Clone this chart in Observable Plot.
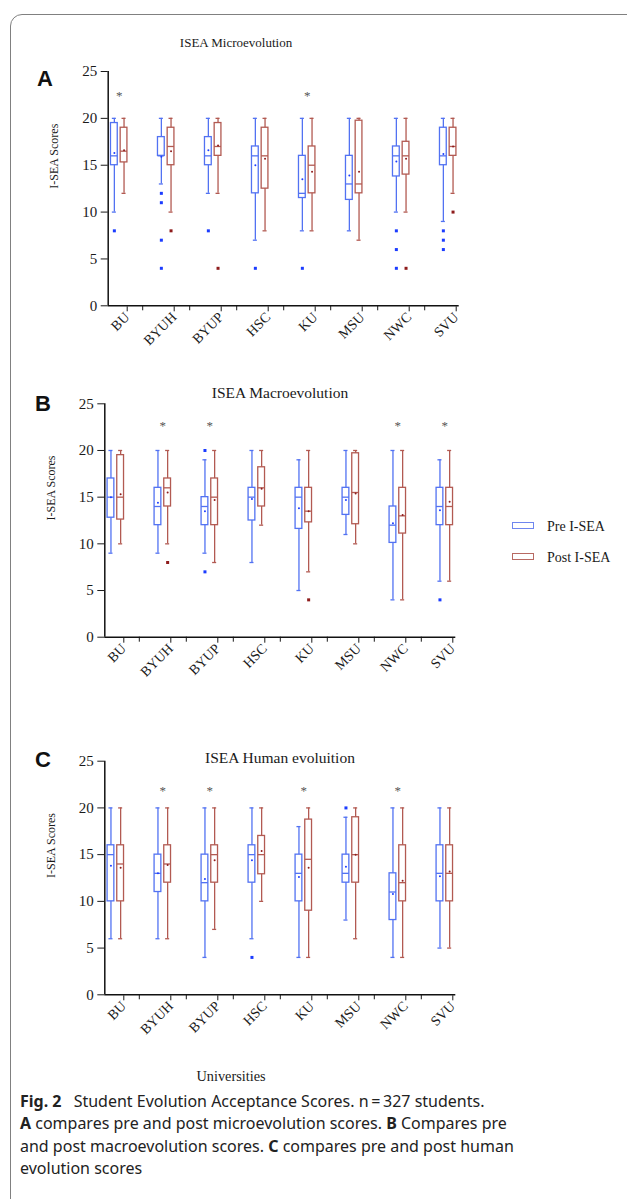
<!DOCTYPE html>
<html><head><meta charset="utf-8">
<script src="https://cdn.jsdelivr.net/npm/d3@7"></script>
<script src="https://cdn.jsdelivr.net/npm/@observablehq/plot@0.6"></script>
<style>
html,body{margin:0;padding:0;overflow:hidden;background:#fff;}
#page{position:relative;width:627px;height:1199px;overflow:hidden;background:#fff;}
#border{position:absolute;left:10px;top:14px;width:720px;height:1300px;border:1.5px solid #808080;border-top-left-radius:12px;box-sizing:border-box;}
.svgwrap{position:absolute;left:0;}
.abs{position:absolute;white-space:nowrap;line-height:1;}
.serif{font-family:"Liberation Serif","Times New Roman",serif;color:#1a1a1a;}
.letter{font-family:"Liberation Sans",Arial,sans-serif;font-weight:bold;font-size:22px;color:#111;}
.lbox{position:absolute;width:22px;height:7px;box-sizing:border-box;border:1.5px solid;}
#caption{position:absolute;left:20px;top:1090px;font-family:"Noto Sans",sans-serif;font-size:16px;line-height:22.3px;color:#222;white-space:nowrap;}
#caption b{font-weight:bold;}
</style></head>
<body><div id="page">
<div id="border"></div>
<div id="panelA" class="svgwrap" style="top:50px"></div>
<div id="panelB" class="svgwrap" style="top:382px"></div>
<div id="panelC" class="svgwrap" style="top:740px"></div>

<div class="abs serif" style="left:236px;top:36px;font-size:13px;transform:translateX(-50%)">ISEA Microevolution</div>
<div class="abs serif" style="left:280px;top:385px;font-size:15.5px;transform:translateX(-50%)">ISEA Macroevolution</div>
<div class="abs serif" style="left:280px;top:750px;font-size:15.5px;transform:translateX(-50%)">ISEA Human evoluition</div>

<div class="abs letter" style="left:37px;top:68px">A</div>
<div class="abs letter" style="left:35px;top:393px">B</div>
<div class="abs letter" style="left:35px;top:749px">C</div>

<div class="lbox" style="left:512px;top:522px;border-color:#6f86ef"></div>
<div class="abs serif" style="left:547px;top:520px;font-size:14px">Pre I-SEA</div>
<div class="lbox" style="left:512px;top:553px;border-color:#b86a63"></div>
<div class="abs serif" style="left:547px;top:551px;font-size:14px">Post I-SEA</div>

<div class="abs serif" style="left:231px;top:1069px;font-size:14.3px;transform:translateX(-50%)">Universities</div>

<div id="caption"><b>Fig. 2</b>&ensp;&nbsp;Student Evolution Acceptance Scores. n&#8201;=&#8201;327 students.<br><b>A</b> compares pre and post microevolution scores. <b>B</b> Compares pre<br>and post macroevolution scores. <b>C</b> compares pre and post human<br>evolution scores</div>
</div>

<script>
// ---- data ----
const universities = ["BU", "BYUH", "BYUP", "HSC", "KU", "MSU", "NWC", "SVU"];
const yTicks = [0, 5, 10, 15, 20, 25];
// each row: [min whisker, Q1, median, Q3, max whisker, mean]
const microPre = [
  [10, 15, 16, 19.5, 20, 16.3],
  [13, 16, 16, 18, 20, 15.9],
  [12, 15, 16, 18, 20, 16.6],
  [7, 12, 16, 17, 20, 15.0],
  [8, 11.5, 12, 16, 20, 13.5],
  [8, 11.3, 13, 16, 20, 13.9],
  [10, 13.8, 16, 17, 20, 15.4],
  [9, 15, 16, 19, 20, 16.2]
];
const microPost = [
  [12, 15.3, 16.5, 19, 20, 16.6],
  [10, 15, 17, 19, 20, 16.5],
  [12, 16, 17, 19.5, 20, 17.1],
  [8, 12.5, 16, 19, 20, 15.7],
  [8, 12, 15, 17, 20, 14.3],
  [7, 12, 13, 19.75, 20, 14.3],
  [10, 14, 16, 17.5, 20, 15.7],
  [12, 16, 17, 19, 20, 17.0]
];
const microPreOutliers = [["BU", 8], ["BYUH", 12], ["BYUH", 11], ["BYUH", 7], ["BYUH", 4], ["BYUP", 8], ["HSC", 4], ["KU", 4], ["NWC", 8], ["NWC", 6], ["NWC", 4], ["SVU", 8], ["SVU", 7], ["SVU", 6]];
const microPostOutliers = [["BYUH", 8], ["BYUP", 4], ["NWC", 4], ["SVU", 10]];
const microStars = ["BU", "KU"];

const macroPre = [
  [9, 12.8, 15, 17, 20, 15.0],
  [9, 12, 14, 16, 20, 14.4],
  [9, 12, 14, 15, 19, 13.5],
  [8, 12.5, 15, 16, 20, 14.8],
  [5, 11.6, 15, 16, 19, 13.8],
  [11, 13.1, 15, 16, 20, 14.7],
  [4, 10.1, 12, 14, 20, 12.2],
  [6, 12, 14, 16, 19, 13.6]
];
const macroPost = [
  [10, 12.6, 15, 19.5, 20, 15.3],
  [10, 14, 16, 17, 20, 15.5],
  [8, 12, 15, 17, 20, 14.7],
  [12, 14, 16, 18.2, 20, 15.9],
  [7, 12.3, 13.5, 16, 20, 13.5],
  [10, 12.1, 15.5, 19.7, 20, 15.4],
  [4, 11.1, 13, 16, 20, 13.1],
  [6, 12, 14, 16, 20, 14.5]
];
const macroPreOutliers = [["BYUP", 20], ["BYUP", 7], ["SVU", 4]];
const macroPostOutliers = [["BYUH", 8], ["KU", 4]];
const macroStars = ["BYUH", "BYUP", "NWC", "SVU"];

const humanPre = [
  [6, 10, 15, 16, 20, 13.8],
  [6, 11, 13, 15, 20, 13.0],
  [4, 10, 12, 15, 20, 12.4],
  [6, 12, 15, 16, 20, 14.4],
  [4, 10, 13, 15, 18, 12.6],
  [8, 12, 13, 15, 19, 13.7],
  [4, 8, 11, 13, 20, 10.8],
  [5, 10, 13, 16, 20, 12.7]
];
const humanPost = [
  [6, 10, 14, 16, 20, 13.6],
  [6, 12, 14, 16, 20, 13.9],
  [7, 12, 15, 16, 20, 14.4],
  [10, 12.9, 15, 17, 20, 15.4],
  [4, 9, 14.5, 18.75, 20, 13.6],
  [6, 12, 15, 19, 20, 15.0],
  [4, 10, 12, 16, 20, 12.2],
  [5, 10, 13, 16, 20, 13.2]
];
const humanPreOutliers = [["HSC", 4], ["MSU", 20]];
const humanPostOutliers = [];
const humanStars = ["BYUH", "BYUP", "KU", "NWC"];

// ---- styling ----
const PRE = "#5272f2", POST = "#b25a52", PRE_DOT = "#1b3cff", POST_DOT = "#8e1c1c";
const OFF = 0.103, HW = 0.072, CAP = 0.043, SW = 1.3;
const xDomain = [-0.234, 7.234];

function makePanel({pre, post, preOut, postOut, stars, starY, marginLeft, height, marginTop, marginBottom}) {
  const rows = [];
  universities.forEach((u, i) => {
    rows.push({u, g: "Pre", xc: i - OFF, v: pre[i]});
    rows.push({u, g: "Post", xc: i + OFF, v: post[i]});
  });
  const outs = [
    ...preOut.map(([u, y]) => ({g: "Pre", xc: universities.indexOf(u) - OFF, y})),
    ...postOut.map(([u, y]) => ({g: "Post", xc: universities.indexOf(u) + OFF, y}))
  ];
  const stroke = d => d.g === "Pre" ? PRE : POST;
  const dotFill = d => d.g === "Pre" ? PRE_DOT : POST_DOT;
  const frameWidth = 351;
  return Plot.plot({
    width: 627, height, marginLeft, marginRight: 627 - marginLeft - frameWidth, marginTop, marginBottom,
    x: {type: "linear", domain: xDomain},
    y: {domain: [0, 25]},
    color: {type: "identity"},
    style: {background: "transparent", fontFamily: "Liberation Serif, Times New Roman, serif", fontSize: "14px", color: "#1a1a1a", overflow: "visible"},
    marks: [
      Plot.axisY({ticks: yTicks, tickSize: 7, tickPadding: 4, fontSize: 15, label: null}),
      Plot.axisX({ticks: d3.range(universities.length), tickSize: 5, tickPadding: 3, tickFormat: i => universities[i], tickRotate: -45, fontSize: 14, dx: 8, dy: 1, label: null}),
      Plot.axisX({ticks: d3.range(universities.length - 1).map(i => i + 0.5), tickSize: 5, tickFormat: () => "", label: null}),
      Plot.ruleY([0], {stroke: "#111", strokeWidth: 1.5}),
      Plot.ruleX([xDomain[0]], {stroke: "#111", strokeWidth: 1.5}),
      Plot.text(["I-SEA Scores"], {frameAnchor: "left", rotate: -90, dx: -54, fontSize: 12}),
      Plot.ruleX(rows, {x: "xc", y1: d => d.v[0], y2: d => d.v[4], stroke, strokeWidth: SW}),
      Plot.ruleY(rows, {y: d => d.v[0], x1: d => d.xc - CAP, x2: d => d.xc + CAP, stroke, strokeWidth: SW}),
      Plot.ruleY(rows, {y: d => d.v[4], x1: d => d.xc - CAP, x2: d => d.xc + CAP, stroke, strokeWidth: SW}),
      Plot.rect(rows, {x1: d => d.xc - HW, x2: d => d.xc + HW, y1: d => d.v[1], y2: d => d.v[3], fill: "white", stroke, strokeWidth: SW}),
      Plot.ruleY(rows, {y: d => d.v[2], x1: d => d.xc - HW, x2: d => d.xc + HW, stroke, strokeWidth: SW}),
      Plot.dot(rows, {x: "xc", y: d => d.v[5], r: 1, fill: dotFill, stroke: null}),
      Plot.dot(outs, {x: "xc", y: "y", symbol: "square", r: 1.7, fill: dotFill, stroke: null}),
      Plot.text(stars, {x: u => universities.indexOf(u), y: () => starY, text: () => "*", fill: "#555", fontSize: 13, dy: 3})
    ]
  });
}

document.getElementById("panelA").append(makePanel({
  pre: microPre, post: microPost, preOut: microPreOutliers, postOut: microPostOutliers,
  stars: microStars, starY: 22.7, marginLeft: 107.7, height: 310, marginTop: 21, marginBottom: 54.7
}));
document.getElementById("panelB").append(makePanel({
  pre: macroPre, post: macroPost, preOut: macroPreOutliers, postOut: macroPostOutliers,
  stars: macroStars, starY: 23, marginLeft: 104.3, height: 310, marginTop: 21.3, marginBottom: 55.3
}));
document.getElementById("panelC").append(makePanel({
  pre: humanPre, post: humanPost, preOut: humanPreOutliers, postOut: humanPostOutliers,
  stars: humanStars, starY: 22.1, marginLeft: 104.3, height: 310, marginTop: 20.7, marginBottom: 55.7
}));
</script>
</body></html>
